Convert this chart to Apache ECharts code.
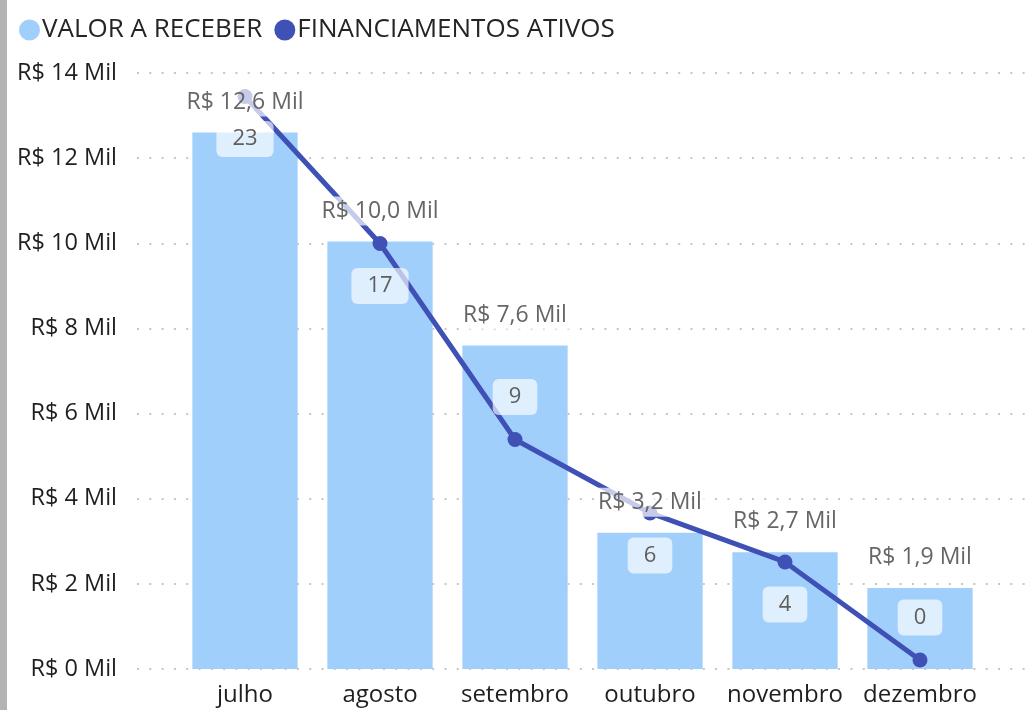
<!DOCTYPE html>
<html>
<head>
<meta charset="utf-8">
<script src="https://cdn.jsdelivr.net/npm/echarts@6/dist/echarts.min.js"></script>
<style>
html,body{margin:0;padding:0;background:#fff;}
#chart{width:1034px;height:710px;}
</style>
</head>
<body>
<div id="chart"></div>
<script>
const categories = ['julho', 'agosto', 'setembro', 'outubro', 'novembro', 'dezembro'];
const valorReceber = [12.6, 10.04, 7.6, 3.2, 2.74, 1.9];
const financiamentos = [23, 17, 9, 6, 4, 0];
const yTicks = [0, 2, 4, 6, 8, 10, 12, 14];

const FONT = '"Open Sans", "Noto Sans", sans-serif';
const linePos = ['bottom', 'bottom', 'top', 'bottom', 'bottom', 'top'];

const fmtMil = v => 'R$ ' + v.toFixed(1).replace('.', ',') + ' Mil';

const chart = echarts.init(document.getElementById('chart'));
chart.setOption({
  animation: false,
  backgroundColor: '#fff',
  textStyle: { fontFamily: FONT },
  graphic: [{
    type: 'rect', left: 0, top: 0, silent: true,
    shape: { width: 7, height: 710 },
    style: { fill: '#b3b3b3' }
  }],
  legend: {
    left: 14, top: 12,
    icon: 'circle', itemWidth: 21, itemHeight: 21, itemGap: 12,
    data: ['VALOR A RECEBER', 'FINANCIAMENTOS ATIVOS'],
    textStyle: { fontSize: 26, color: '#252423', fontFamily: FONT, padding: [0, 0, 0, -3] }
  },
  grid: [
    { left: 177.5, right: 46.5, top: 73, bottom: 41 },
    { left: 137, right: 4, top: 73, bottom: 41 }
  ],
  xAxis: [
    {
      type: 'category', gridIndex: 0, data: categories,
      axisLine: { show: false }, axisTick: { show: false },
      axisLabel: { fontSize: 24, color: '#1f1f1f', margin: 14, interval: 0, fontFamily: FONT }
    },
    { type: 'value', gridIndex: 1, min: 0, max: 1, show: false }
  ],
  yAxis: [
    { type: 'value', gridIndex: 0, min: 0, max: 14, show: false },
    { type: 'value', gridIndex: 0, min: -0.37, max: 23.96, show: false },
    {
      type: 'value', gridIndex: 1, min: yTicks[0], max: yTicks[yTicks.length - 1], interval: 2,
      axisLine: { show: false }, axisTick: { show: false },
      axisLabel: {
        fontSize: 23.5, color: '#1f1f1f', margin: 20, fontFamily: FONT,
        formatter: v => 'R$ ' + v + ' Mil'
      },
      splitLine: { lineStyle: { type: [2, 10.3], width: 2, color: '#c8c6c4' } }
    }
  ],
  series: [
    {
      name: 'VALOR A RECEBER', type: 'bar', xAxisIndex: 0, yAxisIndex: 0,
      data: valorReceber, barWidth: '78%', barGap: '-100%',
      itemStyle: { color: '#a0cffc' }, z: 2
    },
    {
      name: 'FINANCIAMENTOS ATIVOS', type: 'line', xAxisIndex: 0, yAxisIndex: 1,
      data: financiamentos.map((v, i) => ({ value: v, label: { position: linePos[i] } })),
      symbol: 'circle', symbolSize: 15,
      lineStyle: { width: 5, color: '#3f51b5' },
      itemStyle: { color: '#3f51b5' },
      z: 3,
      label: {
        show: true, distance: 17, fontSize: 22, color: '#605e5c', fontFamily: FONT,
        backgroundColor: 'rgba(255,255,255,0.66)', borderRadius: 6, padding: [7, 16]
      }
    },
    {
      name: 'labels', type: 'bar', xAxisIndex: 0, yAxisIndex: 0,
      data: valorReceber, barWidth: '78%', barGap: '-100%', silent: true,
      itemStyle: { color: 'rgba(0,0,0,0)' }, z: 4,
      label: {
        show: true, position: 'top', distance: 16, fontSize: 23, color: '#666666', fontFamily: FONT,
        backgroundColor: 'rgba(255,255,255,0.7)', padding: [3, 4],
        formatter: p => fmtMil(p.value)
      }
    }
  ]
});
</script>
</body>
</html>
